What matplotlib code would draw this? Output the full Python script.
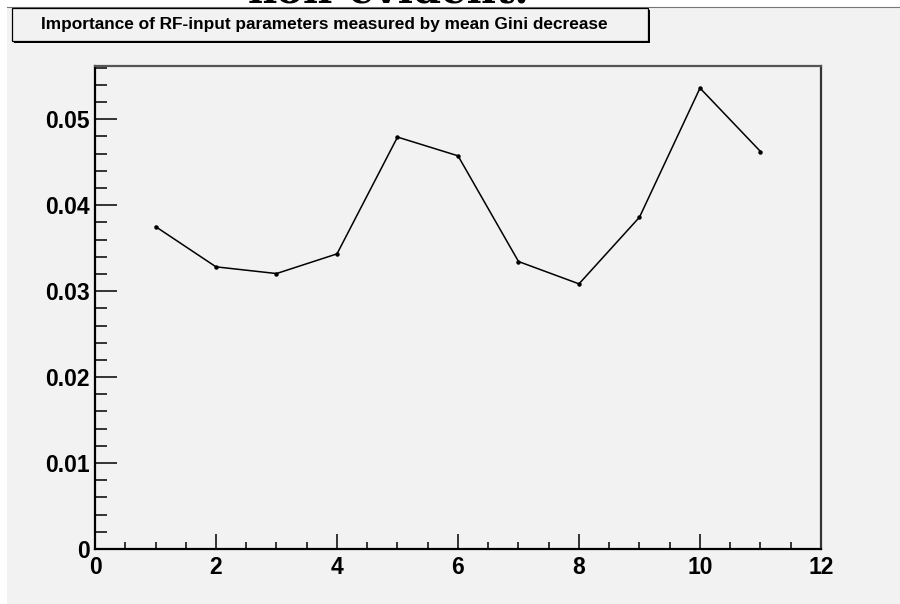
import matplotlib
matplotlib.use("Agg")
import matplotlib.pyplot as plt
from matplotlib.patches import Rectangle
from matplotlib.ticker import MultipleLocator, FuncFormatter

# Variable importance (mean Gini decrease) per RF input parameter
param_index = [1, 2, 3, 4, 5, 6, 7, 8, 9, 10, 11]
gini_decrease = [0.03752, 0.03283, 0.03205, 0.03434, 0.04793, 0.04575,
                 0.03345, 0.03085, 0.03861, 0.05363, 0.04625]

title_text = "Importance of RF-input parameters measured by mean Gini decrease"
x_ticks = [0, 2, 4, 6, 8, 10, 12]
y_ticks = [0, 0.01, 0.02, 0.03, 0.04, 0.05]

W, H, DPI = 900, 604, 100
BG = "#f2f2f2"
FONT = "Liberation Sans"

fig = plt.figure(figsize=(W / DPI, H / DPI), dpi=DPI, facecolor="white")

# grey canvas
fig.patches.append(Rectangle((7 / W, 0), 1 - 7 / W, 1 - 7 / H,
                             transform=fig.transFigure, facecolor=BG,
                             edgecolor="none", zorder=-2))
fig.add_artist(plt.Line2D([7 / W, 1], [1 - 7 / H, 1 - 7 / H],
                          transform=fig.transFigure, color="#777777",
                          lw=0.8, zorder=-1))

# heading text running off the top edge
fig.text(388 / W, 1 - 2.5 / H, "non-evident.", family="DejaVu Serif",
         weight="bold", fontsize=29, ha="center", va="baseline",
         color="black", zorder=1)

# title box with shadow
bx0, by0, bx1, by1 = 12, 8, 648, 41
fig.patches.append(Rectangle((bx0 / W + 2 / W, 1 - (by1 + 2) / H),
                             (bx1 - bx0) / W, (by1 - by0) / H,
                             transform=fig.transFigure, facecolor="black",
                             edgecolor="none", zorder=2))
fig.patches.append(Rectangle((bx0 / W, 1 - by1 / H),
                             (bx1 - bx0) / W, (by1 - by0) / H,
                             transform=fig.transFigure, facecolor=BG,
                             edgecolor="black", lw=0.9, zorder=3))
fig.text(324 / W, 1 - (by0 + by1) / 2 / H, title_text,
         family=FONT, weight="bold", fontsize=12.4, ha="center",
         va="center", zorder=4)

# plot frame
left, right, top, bottom = 95, 821, 66, 549
ax = fig.add_axes([left / W, 1 - bottom / H, (right - left) / W,
                   (bottom - top) / H], zorder=5)
ax.set_facecolor(BG)
ax.plot(param_index, gini_decrease, color="black", lw=1.1,
        marker="o", markersize=2.2, clip_on=False)

ax.set_xlim(0, 12)
ax.set_ylim(0, 0.0562)
ax.set_xticks(x_ticks)
ax.set_yticks(y_ticks)
ax.xaxis.set_minor_locator(MultipleLocator(0.5))
ax.yaxis.set_minor_locator(MultipleLocator(0.002))
ax.xaxis.set_major_formatter(FuncFormatter(lambda v, p: f"{v:g}"))
ax.yaxis.set_major_formatter(FuncFormatter(lambda v, p: f"{v:g}"))

ax.tick_params(axis="y", which="major", direction="in", length=15.8,
               width=1.1, pad=4, labelsize=16.5)
ax.tick_params(axis="y", which="minor", direction="in", length=8.6,
               width=1.1)
ax.tick_params(axis="x", which="major", direction="in", length=10.8,
               width=1.1, pad=5, labelsize=16.5)
ax.tick_params(axis="x", which="minor", direction="in", length=5,
               width=1.1)
for lab in ax.get_xticklabels() + ax.get_yticklabels():
    lab.set_family(FONT)
    lab.set_weight("bold")

for name, sp in ax.spines.items():
    sp.set_linewidth(1.6)
    sp.set_color("black")
ax.spines["top"].set_color("#555555")
ax.spines["right"].set_color("#333333")

fig.savefig("out.png", dpi=DPI, facecolor="white")
